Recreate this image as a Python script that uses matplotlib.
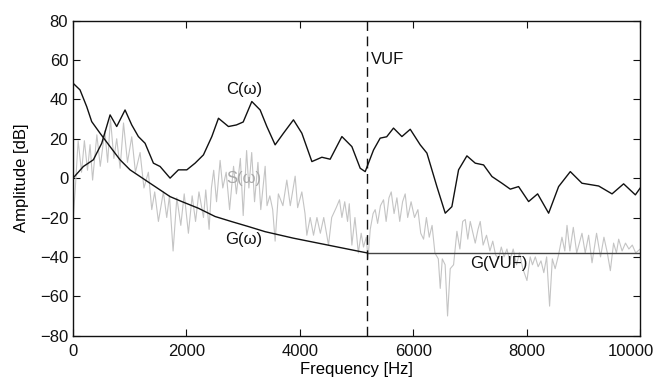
import numpy as np
import matplotlib.pyplot as plt
from matplotlib.transforms import ScaledTranslation

plt.rcParams['font.family'] = ['Liberation Sans', 'DejaVu Sans']

# curve readings (frequency in Hz, amplitude in dB)
c_freq = [0, 182, 358, 506, 653, 770, 917, 1035, 1152, 1270, 1417, 1535, 1711,
          1858, 2006, 2152, 2299, 2447, 2564, 2740, 2880, 3000, 3152, 3299, 3417,
          3563, 3710, 3886, 4034, 4211, 4387, 4533, 4740, 4916, 5063, 5151, 5298,
          5415, 5530, 5650, 5798, 5945, 6121, 6239, 6415, 6562, 6679, 6797, 6944,
          7091, 7238, 7386, 7562, 7709, 7855, 8032, 8191, 8385, 8561, 8767, 8973,
          9267, 9503, 9707, 9914, 10000]
c_amp = [0, 5.9, 9.3, 17.7, 32.1, 26.2, 34.6, 27, 21.1, 17.7, 7.6, 5.9, 0,
         4.2, 4.2, 7.6, 11.8, 21.1, 30.4, 26.2, 27.0, 28.5, 38.9, 34.6, 26.2,
         16.9, 22.8, 29.6, 22.8, 8.4, 10.6, 9.6, 21.1, 16, 5.0, 3.3, 14.3,
         20.3, 21.0, 25.4, 21.1, 24.8, 16.9, 12.7, -4.3, -17.8, -14.5, 4.2, 11.3,
         7.6, 6.7, 0.8, -2.6, -5.6, -4.3, -11.9, -8, -17.8, -4.3, 3.3, -2.6,
         -4, -8, -2.9, -8.5, -5]

g_freq = [0, 123, 241, 329, 476, 653, 829, 1005, 1182, 1358, 1535, 1711, 1917,
          2210, 2505, 2799, 3093, 3387, 3886, 4475, 5063, 5190]
g_amp = [48.2, 44.8, 36.3, 28.7, 22.8, 16, 9.3, 4.2, 0.8, -2.6, -6, -9.4, -11.9,
         -15.3, -19.5, -22.1, -24.6, -27.2, -30.5, -33.9, -37.3, -38]

s_freq = [0, 40, 90, 150, 200, 255, 300, 345, 420, 480, 560, 610, 660, 720, 770,
          830, 890, 960, 1035, 1100, 1182, 1250, 1328, 1388, 1440, 1505, 1593,
          1652, 1700, 1764, 1830, 1900, 1960, 2034, 2100, 2160, 2220, 2300, 2340,
          2399, 2440, 2480, 2530, 2593, 2640, 2700, 2760, 2830, 2880, 2950, 3000,
          3060, 3100, 3150, 3200, 3260, 3310, 3387, 3420, 3470, 3520, 3563, 3620,
          3700, 3769, 3830, 3916, 3960, 4034, 4090, 4122, 4181, 4240, 4300, 4360,
          4420, 4504, 4560, 4640, 4698, 4740, 4790, 4840, 4870, 4916, 4970, 5030,
          5080, 5121, 5170, 5200, 5240, 5290, 5327, 5370, 5420, 5474, 5520, 5570,
          5610, 5660, 5710, 5760, 5810, 5856, 5900, 5960, 6020, 6080, 6130, 6180,
          6230, 6280, 6330, 6380, 6440, 6474, 6510, 6560, 6603, 6650, 6709, 6768,
          6820, 6870, 6915, 6960, 7003, 7091, 7140, 7179, 7230, 7290, 7350, 7400,
          7450, 7503, 7550, 7600, 7650, 7700, 7760, 7820, 7870, 7930, 8003, 8060,
          8100, 8150, 8200, 8250, 8300, 8350, 8402, 8450, 8500, 8560, 8620, 8670,
          8709, 8760, 8820, 8880, 8973, 9030, 9090, 9150, 9230, 9300, 9360, 9420,
          9473, 9530, 9580, 9620, 9680, 9740, 9800, 9860, 9920, 10000]
s_amp = [-22, -5, 19, 3, 19, 4, 17, -1, 22, 6, 24, 8, 30, 10, 20,
         5, 28, 8, 21, 3, 13, -5, 3, -16, -7, -22, -7,
         -20, -9, -37, -10, -24, -8, -28, -9, -22, -7, -20, -6,
         -26, -5, 4, -12, 9, -5, 3, -16, 6, -8, 10, -19,
         14, -5, 13, -12, 8, -16, 6, -14, -9, -16, -32, -8,
         -14, -1, -14, 1, -15, -7, -18, -29, -20, -29, -20, -28,
         -20, -34, -20, -15, -11, -20, -12, -22, -13, -34, -20, -38,
         -28, -35, -30, -41, -26, -18, -16, -23, -14, -11, -22, -10,
         -7, -18, -10, -22, -12, -8, -20, -12, -20, -16, -28, -31,
         -20, -30, -24, -38, -41, -56, -41, -44, -70, -46, -44, -27,
         -36, -22, -21, -31, -22, -33, -26, -22, -34, -29, -37, -32,
         -39, -41, -35, -40, -36, -42, -36, -44, -38, -46, -52, -40,
         -44, -40, -45, -42, -48, -40, -65, -41, -46, -39, -30, -37,
         -24, -37, -25, -38, -28, -38, -29, -43, -28, -40, -30, -38,
         -47, -33, -38, -31, -37, -33, -36, -34, -38, -36]

vuf = 5190
g_vuf = -38
f_max = 10000

fig = plt.figure(figsize=(6.58, 3.81), dpi=100)
ax = fig.add_axes([0.111, 0.119, 0.862, 0.827])

ax.plot(s_freq, s_amp, color='#c4c4c4', lw=0.8)
ax.plot(c_freq, c_amp, color='#111111', lw=1.0)
ax.plot(g_freq, g_amp, color='#111111', lw=1.0)
ax.plot([vuf, f_max], [g_vuf, g_vuf], color='#444444', lw=1.0)
ax.axvline(vuf, color='#111111', lw=1.0, ls=(0, (7, 4)))

fs = 12
ax.text(3016, 44.8, 'C(ω)', fontsize=fs, ha='center', va='center', color='#111111')
ax.text(3004, 0, 'S(ω)', fontsize=fs, ha='center', va='center', color='#a8a8a8')
ax.text(3016, -31.4, 'G(ω)', fontsize=fs, ha='center', va='center', color='#111111')
ax.text(5250, 60, 'VUF', fontsize=fs, ha='left', va='center', color='#111111')
ax.text(7003, -43.2, 'G(VUF)', fontsize=fs, ha='left', va='center', color='#111111')

ax.set_xlim(0, f_max)
ax.set_ylim(-80, 80)
ax.set_xticks(np.arange(0, 10001, 2000))
ax.set_yticks(np.arange(-80, 81, 20))
ax.tick_params(direction='in', top=True, right=True, length=5, width=0.8,
               labelsize=fs, colors='#111111')
ax.tick_params(axis='x', pad=6)
for sp in ax.spines.values():
    sp.set_color('#111111')
    sp.set_linewidth(1.0)
ax.set_xlabel('Frequency [Hz]', fontsize=fs, labelpad=2)
ax.set_ylabel('Amplitude [dB]', fontsize=fs, labelpad=8)

# last x tick label sits a little left so it stays inside the figure
last = ax.get_xticklabels()[-1]
last.set_transform(last.get_transform() + ScaledTranslation(-9 / 100, 0, fig.dpi_scale_trans))

fig.savefig('out.png', dpi=100)
